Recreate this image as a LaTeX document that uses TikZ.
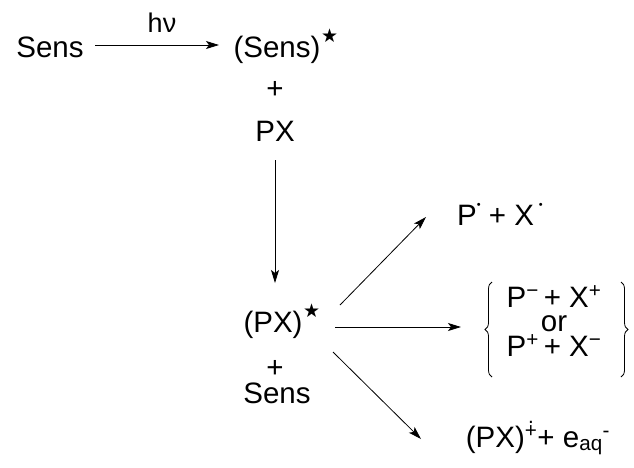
\documentclass[tikz,border=0pt]{standalone}
\usepackage{fontspec}
\setmainfont{Liberation Sans}
\newfontfamily\dejavu{DejaVu Sans}
\usetikzlibrary{arrows.meta,decorations.pathreplacing}
\newcommand\mystar{\rlap{\hspace{0.02em}\raisebox{0.5em}{\dejavu\fontsize{19}{19}\selectfont ★}}}
\newcommand\mydot{\raisebox{16.5pt}{\fontsize{11}{11}\selectfont •}}
\newcommand\mydotplus{\makebox[0pt][l]{\hspace{0.16em}\raisebox{0.72em}{.}}+}
\begin{document}
\begin{tikzpicture}[x=1pt,y=-1pt,
  txt/.style={inner sep=0pt,anchor=base,font=\fontsize{29.5}{31}\selectfont},
  arr/.style={line width=0.8pt,-{Stealth[length=13pt,width=8pt,inset=3pt]}},
  brc/.style={line width=0.8pt,decorate,decoration={brace,amplitude=7pt}}]
\useasboundingbox (0,0) rectangle (634,467);
\node[txt] (sens) at (50,57) {Sens};
\node[txt,font=\fontsize{27}{29}\selectfont] (hnu) at (162,32) {hν};
\node[txt] (sensstar) at (277,57) {(Sens)\mystar};
\node[txt] (plus1) at (275,98) {+};
\node[txt] (px) at (275,141) {PX};
\node[txt] (pxstar) at (273,332) {(PX)\mystar};
\node[txt] (plus2) at (275,377) {+};
\node[txt] (sens2) at (277,403) {Sens};
\node[txt] (radical) at (500,225) {P\mydot\ + X\,\mydot};
\node[txt] (ion1) at (554,307) {P\textsuperscript{−}\,+ X\textsuperscript{+}};
\node[txt] (ionor) at (554,331) {or};
\node[txt] (ion2) at (554,356) {P\textsuperscript{+}\,+ X\textsuperscript{−}};
\node[txt] (ionize) at (538,447) {(PX)\textsuperscript{\mydotplus}+ e\textsubscript{aq}\textsuperscript{-}};
\coordinate (s1) at (95,45);
\coordinate (e1) at (219,45);
\coordinate (s2) at (275,160);
\coordinate (e2) at (275,283);
\coordinate (s3) at (340,305);
\coordinate (e3) at (426,217);
\coordinate (s4) at (335,327);
\coordinate (e4) at (461,327);
\coordinate (s5) at (333,352);
\coordinate (e5) at (421,439);
\coordinate (lb1) at (492,377);
\coordinate (lb2) at (492,282);
\coordinate (rb1) at (621,282);
\coordinate (rb2) at (621,377);
\draw[arr] (s1) -- (e1);
\draw[arr] (s2) -- (e2);
\draw[arr] (s3) -- (e3);
\draw[arr] (s4) -- (e4);
\draw[arr] (s5) -- (e5);
\draw[brc] (lb1) -- (lb2);
\draw[brc] (rb1) -- (rb2);
\end{tikzpicture}
\end{document}
